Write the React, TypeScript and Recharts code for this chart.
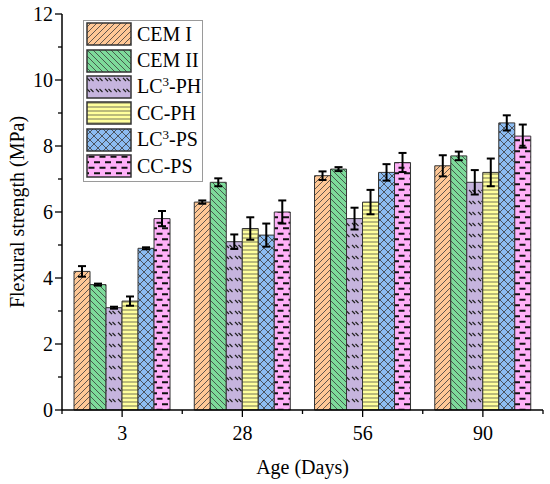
import { Bar, BarChart, ErrorBar, Legend, XAxis, YAxis } from "recharts";

const AGES = ["3", "28", "56", "90"];
const SERIES_NAMES = ["CEM I", "CEM II", "LC3-PH", "CC-PH", "LC3-PS", "CC-PS"];

const CEM_I = [4.2, 6.3, 7.1, 7.4];
const CEM_I_ERR = [0.16, 0.05, 0.13, 0.32];
const CEM_II = [3.8, 6.9, 7.3, 7.7];
const CEM_II_ERR = [0.03, 0.12, 0.06, 0.13];
const LC3_PH = [3.1, 5.1, 5.8, 6.9];
const LC3_PH_ERR = [0.03, 0.22, 0.33, 0.37];
const CC_PH = [3.3, 5.5, 6.3, 7.2];
const CC_PH_ERR = [0.14, 0.34, 0.37, 0.42];
const LC3_PS = [4.9, 5.3, 7.2, 8.7];
const LC3_PS_ERR = [0.03, 0.35, 0.25, 0.23];
const CC_PS = [5.8, 6.0, 7.5, 8.3];
const CC_PS_ERR = [0.23, 0.35, 0.29, 0.35];

const Y_TICKS = [0, 1, 2, 3, 4, 5, 6, 7, 8, 9, 10, 11, 12];

const VALUES = [CEM_I, CEM_II, LC3_PH, CC_PH, LC3_PS, CC_PS];
const ERRORS = [CEM_I_ERR, CEM_II_ERR, LC3_PH_ERR, CC_PH_ERR, LC3_PS_ERR, CC_PS_ERR];
const KEYS = ["cem1", "cem2", "lc3ph", "ccph", "lc3ps", "ccps"];
const PATTERNS = ["pCem1", "pCem2", "pLc3ph", "pCcph", "pLc3ps", "pCcps"];

const rows = AGES.map((age, i) => {
  const row: Record<string, string | number> = { age };
  KEYS.forEach((k, s) => {
    row[k] = VALUES[s][i];
    row[k + "Err"] = ERRORS[s][i];
  });
  return row;
});

const FONT = "'Liberation Serif', 'Times New Roman', serif";
const W = 550;
const H = 484;
const LEFT = 62;
const RIGHT = 7;
const HALF_BAND = (W - LEFT - RIGHT) / AGES.length / 2;

function SeriesLabel({ name }: { name: string }) {
  if (name.startsWith("LC3")) {
    return (
      <span>
        LC<sup style={{ fontSize: 13, verticalAlign: 7, lineHeight: 0 }}>3</sup>
        {name.slice(3)}
      </span>
    );
  }
  return <span>{name}</span>;
}

function Patterns() {
  const ink = "#3a3a3a";
  return (
    <defs>
      <pattern id="pCem1" patternUnits="userSpaceOnUse" width={6} height={6}>
        <rect width={6} height={6} fill="#ffc896" />
        <path d="M0,6 L6,0 M-1,1 L1,-1 M5,7 L7,5" stroke={ink} strokeWidth={0.8} />
      </pattern>
      <pattern id="pCem2" patternUnits="userSpaceOnUse" width={6} height={6}>
        <rect width={6} height={6} fill="#7dda9a" />
        <path d="M0,0 L6,6 M5,-1 L7,1 M-1,5 L1,7" stroke={ink} strokeWidth={0.8} />
      </pattern>
      <pattern id="pLc3ph" patternUnits="userSpaceOnUse" width={9} height={11}>
        <rect width={9} height={11} fill="#c6b4de" />
        <path d="M1,3 L4,6 M4.5,3 L7.5,6" stroke="#222" strokeWidth={1.2} />
      </pattern>
      <pattern id="pCcph" patternUnits="userSpaceOnUse" width={4} height={4}>
        <rect width={4} height={4} fill="#ffff9c" />
        <path d="M0,2 L4,2" stroke={ink} strokeWidth={0.7} />
      </pattern>
      <pattern id="pLc3ps" patternUnits="userSpaceOnUse" width={8} height={8}>
        <rect width={8} height={8} fill="#8cbcf2" />
        <path d="M0,0 L8,8 M8,0 L0,8" stroke={ink} strokeWidth={0.8} />
      </pattern>
      <pattern id="pCcps" patternUnits="userSpaceOnUse" width={11} height={11}>
        <rect width={11} height={11} fill="#ffb0f8" />
        <path d="M2.5,2.75 L8.5,2.75 M-3,8.25 L3,8.25 M8,8.25 L14,8.25" stroke="#111" strokeWidth={1.8} />
      </pattern>
    </defs>
  );
}

function YTick({ x, y, payload }: any) {
  const major = payload.value % 2 === 0;
  return (
    <g>
      <line x1={x} x2={x - (major ? 7 : 4)} y1={y} y2={y} stroke="#000" strokeWidth={1.3} />
      {major && (
        <text x={x - 9} y={y} dy={7} textAnchor="end" fontSize={20} fontFamily={FONT} fill="#000">
          {payload.value}
        </text>
      )}
    </g>
  );
}

function XTick({ x, y, payload, index }: any) {
  const last = index === AGES.length - 1;
  return (
    <g>
      <line x1={x} x2={x} y1={y} y2={y + 7} stroke="#000" strokeWidth={1.3} />
      <line x1={x - HALF_BAND} x2={x - HALF_BAND} y1={y} y2={y + 4} stroke="#000" strokeWidth={1.3} />
      {last && (
        <line x1={x + HALF_BAND} x2={x + HALF_BAND} y1={y} y2={y + 4} stroke="#000" strokeWidth={1.3} />
      )}
      <text x={x} y={y} dy={30} textAnchor="middle" fontSize={20} fontFamily={FONT} fill="#000">
        {payload.value}
      </text>
    </g>
  );
}

function LegendBox() {
  return (
    <div
      style={{
        border: "1px solid #9a9a9a",
        background: "#fff",
        width: 118,
        paddingBottom: 2,
        fontFamily: FONT,
        fontSize: 20,
        color: "#000",
      }}
    >
      {SERIES_NAMES.map((name, i) => (
        <div key={name} style={{ display: "flex", alignItems: "center", height: 26.4 }}>
          <svg width={46} height={24} style={{ marginLeft: 2, marginRight: 5, flex: "none" }}>
            <rect x={1} y={1} width={44} height={22} fill={`url(#${PATTERNS[i]})`} stroke="#333" strokeWidth={1.5} />
          </svg>
          <SeriesLabel name={name} />
        </div>
      ))}
    </div>
  );
}

export default function App() {
  return (
    <div style={{ position: "absolute", left: 0, top: 0, background: "#fff" }}>
      <BarChart
        width={W}
        height={H}
        data={rows}
        margin={{ top: 14, right: RIGHT, bottom: 0, left: 0 }}
        barCategoryGap="10%"
        barGap={0}
      >
        <Patterns />
        <XAxis
          dataKey="age"
          height={74}
          axisLine={{ stroke: "#000", strokeWidth: 1.5 }}
          tickLine={false}
          tickSize={0}
          tickMargin={0}
          tick={<XTick />}
          interval={0}
          label={{
            content: ({ viewBox }: any) => (
              <text
                x={viewBox.x + viewBox.width / 2}
                y={viewBox.y + 64}
                textAnchor="middle"
                fontSize={20}
                fontFamily={FONT}
                fill="#000"
              >
                Age (Days)
              </text>
            ),
          }}
        />
        <XAxis xAxisId="top" dataKey="age" orientation="top" height={0} tick={false} tickLine={false} axisLine={{ stroke: "#000", strokeWidth: 1.5 }} />
        <YAxis
          width={LEFT}
          domain={[0, 12]}
          ticks={Y_TICKS}
          interval={0}
          axisLine={{ stroke: "#000", strokeWidth: 1.5 }}
          tickLine={false}
          tickSize={0}
          tickMargin={0}
          tick={<YTick />}
          label={{
            content: ({ viewBox }: any) => {
              const cy = viewBox.y + viewBox.height / 2;
              return (
                <text
                  x={17}
                  y={cy}
                  transform={`rotate(-90, 17, ${cy})`}
                  textAnchor="middle"
                  dominantBaseline="central"
                  fontSize={20}
                  fontFamily={FONT}
                  fill="#000"
                >
                  Flexural strength (MPa)
                </text>
              );
            },
          }}
        />
        <YAxis yAxisId="right" orientation="right" width={0} domain={[0, 12]} tick={false} tickLine={false} axisLine={{ stroke: "#000", strokeWidth: 1.5 }} />
        <Legend
          layout="vertical"
          align="center"
          verticalAlign="middle"
          wrapperStyle={{ left: 83, top: 20, width: "auto" }}
          content={() => <LegendBox />}
        />
        {KEYS.map((k, i) => (
          <Bar
            key={k}
            dataKey={k}
            name={SERIES_NAMES[i]}
            fill={`url(#${PATTERNS[i]})`}
            stroke="#333"
            strokeWidth={1}
            isAnimationActive={false}
          >
            <ErrorBar dataKey={k + "Err"} direction="y" width={4} stroke="#000" strokeWidth={2} />
          </Bar>
        ))}
      </BarChart>
    </div>
  );
}
